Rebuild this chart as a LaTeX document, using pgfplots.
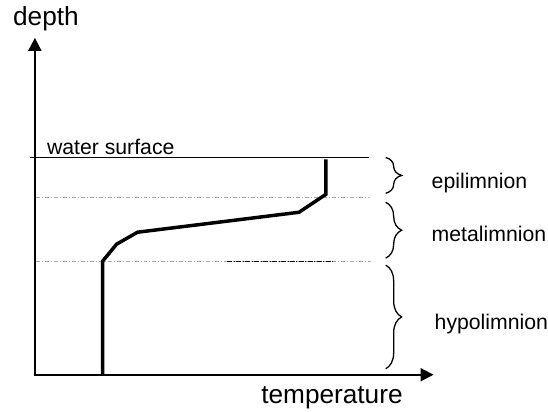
\documentclass[border=0pt]{standalone}
\usepackage{fontspec}
\setmainfont{Liberation Sans}
\usepackage{pgfplots}
\pgfplotsset{compat=1.18}
\usetikzlibrary{decorations.pathreplacing,arrows.meta}
\begin{document}
\begin{tikzpicture}
\begin{axis}[
  width=548pt, height=413pt, scale only axis,
  xmin=0, xmax=548, ymin=0, ymax=413, y dir=reverse,
  hide axis, clip=false,
]
\path (axis cs:0,0) rectangle (axis cs:548,413);
% axes
\draw[line width=2pt,-{Triangle[length=13pt,width=13pt]}] (axis cs:35,376) -- (axis cs:35,38);
\draw[line width=2pt,-{Triangle[length=13pt,width=13pt]}] (axis cs:34,376) -- (axis cs:435,376);
% water surface and layer boundaries
\addplot[black, line width=1.3pt] coordinates {(30,158) (370,158)};
\addplot[gray!70, line width=0.8pt, dash pattern=on 4pt off 2pt on 1pt off 2pt] coordinates {(36,198) (370,198)};
\addplot[gray!70, line width=0.8pt, dash pattern=on 4pt off 2pt on 1pt off 2pt] coordinates {(36,262) (372,262)};
\addplot[black, line width=1pt, dash pattern=on 5pt off 1.5pt on 1pt off 1.5pt] coordinates {(228,262) (336,262)};
% temperature profile
\addplot[black, line width=3.5pt, line join=miter] coordinates {
 (327,160) (327,195) (300,213) (138,233) (117,245) (103,262) (103,377)};
% braces
\draw[line width=1.3pt, decorate, decoration={brace, amplitude=16pt}] (axis cs:387,158) -- (axis cs:387,194);
\draw[line width=1.3pt, decorate, decoration={brace, amplitude=16pt}] (axis cs:387,203) -- (axis cs:387,259);
\draw[line width=1.3pt, decorate, decoration={brace, amplitude=16pt}] (axis cs:387,266) -- (axis cs:387,370);
% labels
\node[anchor=base west, inner sep=0pt, font=\fontsize{26.3}{30}\selectfont] at (axis cs:13,26) {depth};
\node[anchor=base west, inner sep=0pt, font=\fontsize{26.3}{30}\selectfont] at (axis cs:262,405) {temperature};
\node[anchor=base west, inner sep=0pt, font=\fontsize{21.3}{24}\selectfont] at (axis cs:47,155) {water surface};
\node[anchor=west, inner sep=0pt, font=\fontsize{21.3}{24}\selectfont] at (axis cs:433,184) {epilimnion};
\node[anchor=west, inner sep=0pt, font=\fontsize{21.3}{24}\selectfont] at (axis cs:433,235) {metalimnion};
\node[anchor=west, inner sep=0pt, font=\fontsize{21.3}{24}\selectfont] at (axis cs:436,325) {hypolimnion};
\end{axis}
\end{tikzpicture}
\end{document}
